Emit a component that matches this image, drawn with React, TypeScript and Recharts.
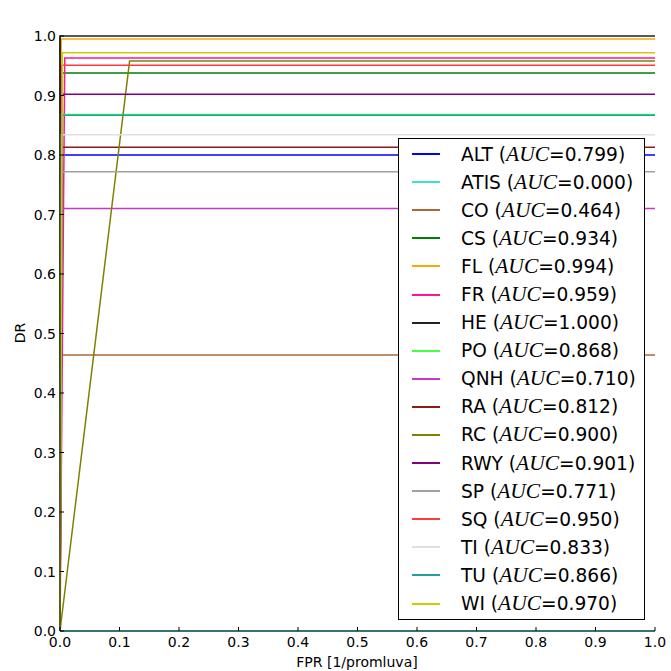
import React from 'react'
import { LineChart, Line, XAxis, YAxis, Legend } from 'recharts'

// entity names, legend AUC values, knee point (fpr, tpr) of every ROC curve
const ENTITIES = ['ALT', 'ATIS', 'CO', 'CS', 'FL', 'FR', 'HE', 'PO', 'QNH', 'RA', 'RC', 'RWY', 'SP', 'SQ', 'TI', 'TU', 'WI']
const AUC = ['0.799', '0.000', '0.464', '0.934', '0.994', '0.959', '1.000', '0.868', '0.710', '0.812', '0.900', '0.901', '0.771', '0.950', '0.833', '0.866', '0.970']
const KNEE_FPR = [0.003, 0, 0.002, 0.004, 0.002, 0.008, 0, 0.001, 0.002, 0.003, 0.117, 0.002, 0.002, 0.003, 0.002, 0.004, 0.004]
const KNEE_TPR = [0.8, 0, 0.464, 0.938, 0.995, 0.963, 1.0, 0.868, 0.71, 0.813, 0.958, 0.902, 0.772, 0.951, 0.834, 0.867, 0.972]
const COLORS = ['#0000ff', '#40e0d0', '#a8693a', '#008000', '#ffa500', '#ff1493', '#222222', '#44ff44', '#cc33cc', '#8b1a1a', '#808000', '#800080', '#a0a0a0', '#ff3b3b', '#e0e0e0', '#20a0a0', '#cccc00']
const TICKS = [0, 0.1, 0.2, 0.3, 0.4, 0.5, 0.6, 0.7, 0.8, 0.9, 1.0]

const FONT = '"DejaVu Sans", sans-serif'

const curves = ENTITIES.map((name, i) => ({
  name,
  color: COLORS[i],
  points: [
    { x: 0, y: 0 },
    { x: KNEE_FPR[i], y: KNEE_TPR[i] },
    { x: 1, y: KNEE_TPR[i] },
  ],
}))

const BottomTick = ({ x, y, payload }: any) => (
  <g>
    <line x1={x} y1={y} x2={x} y2={y - 4} stroke="#000" />
    <text x={x} y={y + 16} textAnchor="middle" fontSize={14} fontFamily={FONT} fill="#000">
      {payload.value.toFixed(1)}
    </text>
  </g>
)

const TopTick = ({ x, y }: any) => <line x1={x} y1={y} x2={x} y2={y + 4} stroke="#000" />

const LeftTick = ({ x, y, payload }: any) => (
  <g>
    <line x1={x} y1={y} x2={x + 4} y2={y} stroke="#000" />
    <text x={x - 4} y={y + 5} textAnchor="end" fontSize={14} fontFamily={FONT} fill="#000">
      {payload.value.toFixed(1)}
    </text>
  </g>
)

const RightTick = ({ x, y }: any) => <line x1={x} y1={y} x2={x - 4} y2={y} stroke="#000" />

const renderLegend = () => (
  <div
    style={{
      background: '#fff',
      border: '1px solid #000',
      boxSizing: 'border-box',
      width: 247,
      height: 482,
      paddingTop: 1,
      fontFamily: FONT,
      fontSize: 18.6,
      color: '#000',
    }}
  >
    {curves.map((c, i) => (
      <div key={c.name} style={{ display: 'flex', alignItems: 'center', height: 28.1, whiteSpace: 'nowrap' }}>
        <div style={{ width: 28, height: 2, background: c.color, marginLeft: 13, marginRight: 21 }} />
        <span>
          {c.name} (<span style={{ fontFamily: '"Liberation Serif", serif', fontStyle: 'italic', fontSize: 21.5 }}>AUC</span>={AUC[i]})
        </span>
      </div>
    ))}
  </div>
)

export default function App() {
  return (
    <div style={{ position: 'absolute', left: 0, top: 0, background: '#fff' }}>
      <LineChart width={671} height={671} margin={{ top: 36, right: 16, bottom: 20, left: 0 }}>
        <XAxis
          xAxisId="bottom"
          dataKey="x"
          type="number"
          domain={[0, 1]}
          ticks={TICKS}
          height={20}
          tickSize={0}
          tickMargin={0}
          tickLine={false}
          tick={<BottomTick />}
          axisLine={{ stroke: '#000' }}
          label={{
            content: () => (
              <text x={357} y={667} textAnchor="middle" fontSize={14} fontFamily={FONT} fill="#000">
                FPR [1/promluva]
              </text>
            ),
          }}
        />
        <XAxis
          xAxisId="top"
          orientation="top"
          dataKey="x"
          type="number"
          domain={[0, 1]}
          ticks={TICKS}
          height={0}
          tickSize={0}
          tickMargin={0}
          tickLine={false}
          tick={<TopTick />}
          axisLine={{ stroke: '#000' }}
          label={{
            content: () => (
              <text x={357} y={24} textAnchor="middle" fontSize={17} fontFamily={FONT} fill="#000">
                ROC curve :: test-e7 :: reference vs. RE-text :: every entity
              </text>
            ),
          }}
        />
        <YAxis
          yAxisId="left"
          type="number"
          domain={[0, 1]}
          ticks={TICKS}
          width={60}
          tickSize={0}
          tickMargin={0}
          tickLine={false}
          tick={<LeftTick />}
          axisLine={{ stroke: '#000' }}
          label={{
            content: () => (
              <text
                x={20}
                y={333}
                transform="rotate(-90 20 333)"
                textAnchor="middle"
                dominantBaseline="central"
                fontSize={14}
                fontFamily={FONT}
                fill="#000"
              >
                DR
              </text>
            ),
          }}
        />
        <YAxis
          yAxisId="right"
          orientation="right"
          type="number"
          domain={[0, 1]}
          ticks={TICKS}
          width={0}
          tickSize={0}
          tickMargin={0}
          tickLine={false}
          tick={<RightTick />}
          axisLine={{ stroke: '#000' }}
        />
        {curves.map(c => (
          <Line
            key={c.name}
            xAxisId="bottom"
            yAxisId="left"
            data={c.points}
            dataKey="y"
            name={c.name}
            type="linear"
            stroke={c.color}
            strokeWidth={1.5}
            dot={false}
            activeDot={false}
            isAnimationActive={false}
          />
        ))}
        <Legend
          layout="vertical"
          align="center"
          verticalAlign="middle"
          content={renderLegend}
          wrapperStyle={{ left: 398, top: 138, width: 247, height: 482 }}
        />
      </LineChart>
    </div>
  )
}
